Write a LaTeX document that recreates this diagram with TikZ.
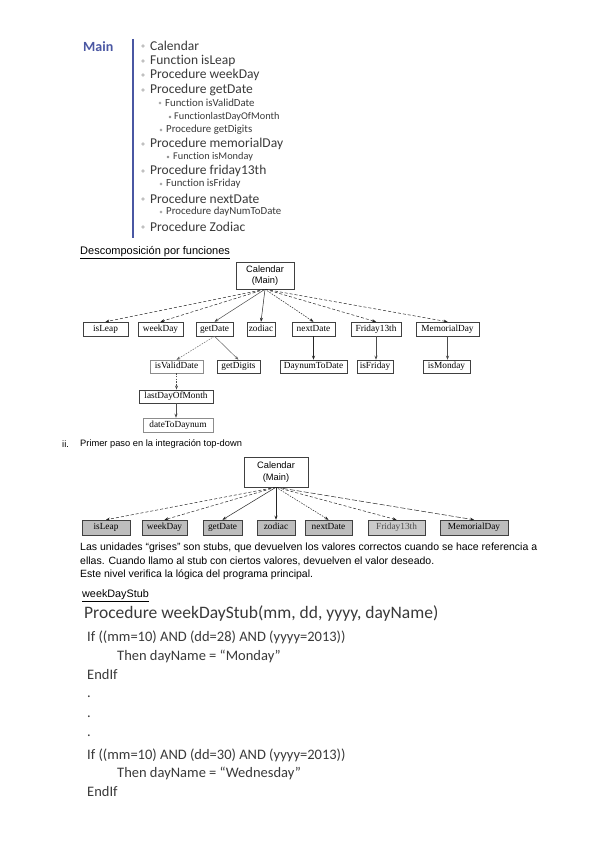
\documentclass[tikz,border=0pt]{standalone}
\usepackage{fontspec}
\usetikzlibrary{arrows.meta}
\newfontfamily\calfont[Ligatures=NoCommon]{Carlito}
\newfontfamily\arifont{Liberation Sans}
\newfontfamily\tmsfont{Liberation Serif}
\definecolor{mainblue}{HTML}{4A57A3}
\definecolor{listtext}{HTML}{3A3A3A}
\definecolor{boxgray}{HTML}{BDBDBD}
\begin{document}
\begin{tikzpicture}[x=1pt,y=-1pt,
  txt/.style={anchor=west,inner sep=0pt,text=listtext},
  big/.style={txt,font=\calfont\fontsize{13.5}{15}\selectfont},
  mid/.style={txt,font=\calfont\fontsize{10.8}{12}\selectfont},
  sml/.style={txt,font=\calfont\fontsize{10.3}{11}\selectfont},
  bul/.style={circle,draw=gray,line width=0.4pt,inner sep=0pt,minimum size=2.6pt},
  tbox/.style={draw=black!75,line width=0.5pt,inner sep=0pt,font=\tmsfont\fontsize{9.3}{10}\selectfont,align=center,text height=6.3pt,text depth=2pt},
  gbox/.style={tbox,fill=boxgray},
  cbox/.style={draw=black!75,line width=0.5pt,inner sep=0pt,font=\arifont\fontsize{9.3}{11.5}\selectfont,align=center,fill=white},
  arr/.style={-{Stealth[length=4pt,width=3pt]},line width=0.5pt,black!85},
  dsh/.style={arr,dash pattern=on 3pt off 2pt},
  fdsh/.style={arr,dash pattern=on 1.5pt off 1.2pt},
  para/.style={anchor=west,inner sep=0pt,font=\arifont\fontsize{10.5}{12}\selectfont},
  code/.style={anchor=west,inner sep=0pt,text=listtext,font=\calfont\fontsize{14.5}{16}\selectfont}
]
\useasboundingbox (0,0) rectangle (599,848);
\fill[white] (0,0) rectangle (599,848);

% ---------- Main list ----------
\node[anchor=west,inner sep=0pt,text=mainblue,font=\calfont\bfseries\fontsize{14}{16}\selectfont] (main) at (83,47) {Main};
\coordinate (bartop) at (133,39);
\coordinate (barbot) at (133,238);
\draw[mainblue,line width=1.6pt] (bartop) -- (barbot);

\node[bul] (b1) at (143,46) {};  \node[big] (l1) at (150,46) {Calendar};
\node[bul] (b2) at (143,61) {};  \node[big] (l2) at (150,61) {Function isLeap};
\node[bul] (b3) at (143,75) {};  \node[big] (l3) at (150,75) {Procedure weekDay};
\node[bul] (b4) at (143,90) {};  \node[big] (l4) at (150,90) {Procedure getDate};
\node[bul,minimum size=2.2pt] (b5) at (160,103) {};  \node[mid] (l5) at (165,103) {Function isValidDate};
\node[bul,minimum size=2pt] (b6) at (170,117) {};  \node[sml] (l6) at (174,117) {FunctionlastDayOfMonth};
\node[bul,minimum size=2.2pt] (b7) at (161,130) {};  \node[mid] (l7) at (166,130) {Procedure getDigits};
\node[bul] (b8) at (143,144) {};  \node[big] (l8) at (150,144) {Procedure memorialDay};
\node[bul,minimum size=2pt] (b9) at (168,157) {};  \node[sml] (l9) at (173,157) {Function isMonday};
\node[bul] (b10) at (143,171) {}; \node[big] (l10) at (150,171) {Procedure friday13th};
\node[bul,minimum size=2.2pt] (b11) at (161,184) {}; \node[mid] (l11) at (166,184) {Function isFriday};
\node[bul] (b12) at (143,199) {}; \node[big] (l12) at (150,199) {Procedure nextDate};
\node[bul,minimum size=2.2pt] (b13) at (161,212) {}; \node[mid] (l13) at (166,212) {Procedure dayNumToDate};
\node[bul] (b14) at (143,227) {}; \node[big] (l14) at (150,227) {Procedure Zodiac};

% ---------- Tree 1 ----------
\node[para,font=\arifont\fontsize{11}{12}\selectfont] (t1) at (80,253) {\underline{Descomposición por funciones}};

\node[cbox,minimum width=58pt,minimum height=27pt] (cal1) at (265,275.5) {Calendar\\(Main)};

\node[tbox,minimum width=45pt,minimum height=14pt] (a1) at (105.5,329) {isLeap};
\node[tbox,minimum width=45pt,minimum height=14pt] (a2) at (160.5,329) {weekDay};
\node[tbox,minimum width=37pt,minimum height=14pt] (a3) at (214.5,329) {getDate};
\node[tbox,minimum width=28pt,minimum height=14pt] (a4) at (261,329) {zodiac};
\node[tbox,minimum width=43pt,minimum height=14pt] (a5) at (313.5,329) {nextDate};
\node[tbox,minimum width=50pt,minimum height=14pt] (a6) at (376,329) {Friday13th};
\node[tbox,minimum width=63pt,minimum height=14pt] (a7) at (447.5,329) {MemorialDay};

\node[tbox,draw=black!45,minimum width=53pt,minimum height=13pt] (c1) at (176.5,366.5) {isValidDate};
\node[tbox,minimum width=43pt,minimum height=13pt] (c2) at (238.5,366.5) {getDigits};
\node[tbox,minimum width=67pt,minimum height=13pt] (c3) at (313.5,366.5) {DaynumToDate};
\node[tbox,minimum width=36pt,minimum height=13pt] (c4) at (375,366.5) {isFriday};
\node[tbox,minimum width=47pt,minimum height=13pt] (c5) at (446.5,366.5) {isMonday};

\node[tbox,line width=0.9pt,minimum width=74pt,minimum height=13pt] (d1) at (176,396.5) {lastDayOfMonth};
\node[tbox,draw=black!45,minimum width=70pt,minimum height=14pt] (d2) at (178,425) {dateToDaynum};

\draw[dsh] (cal1.south) -- (a1.north);
\draw[dsh] (cal1.south) -- (a2.north);
\draw[arr,black!70] (cal1.south) -- (a3.north);
\draw[arr] (cal1.south) -- (a4.north);
\draw[fdsh] (cal1.south) -- (a5.north);
\draw[dsh] (cal1.south) -- (a6.north);
\draw[dsh] (cal1.south) -- (a7.north);

\draw[fdsh,black!60] (a3.south) -- (c1.north);
\draw[arr,black!60] (a3.south) -- (c2.north);
\draw[arr,line width=0.8pt] (a5.south) -- (a5.south |- c3.north);
\draw[arr,line width=0.8pt,black!70] (a6.south) -- (a6.south |- c4.north);
\draw[arr,black!70] (a7.south) -- (a7.south |- c5.north);
\draw[fdsh,black!70] (c1.south) -- (c1.south |- d1.north);
\draw[arr,black!70] (d1.south) -- (d1.south |- d2.north);

% ---------- Tree 2 ----------
\node[para,font=\arifont\fontsize{9.3}{11}\selectfont] (ii) at (62,444) {ii.};
\node[para,font=\arifont\fontsize{9.3}{11}\selectfont] (t2) at (80,444) {Primer paso en la integración top-down};

\node[cbox,minimum width=64pt,minimum height=30pt] (cal2) at (276,472) {Calendar\\(Main)};

\node[gbox,minimum width=48pt,minimum height=15pt] (g1) at (106,527.5) {isLeap};
\node[gbox,minimum width=45pt,minimum height=15pt] (g2) at (164.5,527.5) {weekDay};
\node[gbox,minimum width=39pt,minimum height=15pt] (g3) at (222.5,527.5) {getDate};
\node[gbox,minimum width=38pt,minimum height=15pt] (g4) at (276,527.5) {zodiac};
\node[gbox,minimum width=47pt,minimum height=15pt] (g5) at (328.5,527.5) {nextDate};
\node[gbox,fill=boxgray!80,text=black!70,minimum width=57pt,minimum height=15pt] (g6) at (396.5,527.5) {Friday13th};
\node[gbox,minimum width=68pt,minimum height=15pt] (g7) at (474,527.5) {MemorialDay};

\draw[dsh] (cal2.south) -- (g1.north);
\draw[dsh] (cal2.south) -- (g2.north);
\draw[arr] (cal2.south) -- (g3.north);
\draw[arr] (cal2.south) -- (g4.north);
\draw[fdsh] (cal2.south) -- (g5.north);
\draw[dsh] (cal2.south) -- (g6.north);
\draw[arr,dash pattern=on 5pt off 2pt] (cal2.south) -- (g7.north);

% ---------- Paragraph ----------
\node[para] (p1) at (80,548) {Las unidades “grises” son stubs, que devuelven los valores correctos cuando se hace referencia a};
\node[para] (p2) at (80,561.5) {ellas. Cuando llamo al stub con ciertos valores, devuelven el valor deseado.};
\node[para] (p3) at (80,575) {Este nivel verifica la lógica del programa principal.};

% ---------- Code ----------
\node[para,font=\arifont\fontsize{10.8}{12}\selectfont] (ws) at (82,596) {\underline{weekDayStub}};
\node[code,font=\calfont\fontsize{17.5}{19}\selectfont] (pr) at (84,614) {Procedure weekDayStub(mm, dd, yyyy, dayName)};
\node[code] (k1) at (87,637) {If ((mm=10) AND (dd=28) AND (yyyy=2013))};
\node[code] (k2) at (117,656) {Then dayName = “Monday”};
\node[code] (k3) at (87,675) {EndIf};
\node[code] (k4) at (87,697) {.};
\node[code] (k5) at (87,717) {.};
\node[code] (k6) at (87,736) {.};
\node[code] (k7) at (87,755) {If ((mm=10) AND (dd=30) AND (yyyy=2013))};
\node[code] (k8) at (117,773) {Then dayName = “Wednesday”};
\node[code] (k9) at (87,792) {EndIf};
\end{tikzpicture}
\end{document}
